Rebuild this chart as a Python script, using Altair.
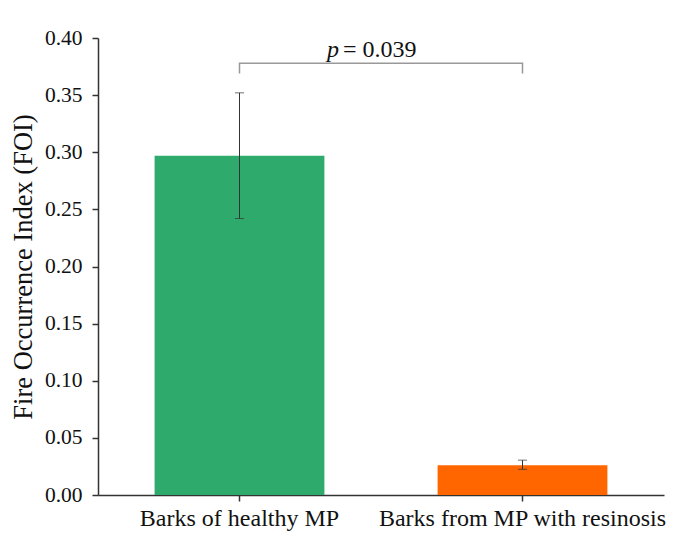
import altair as alt
import pandas as pd

categories = ["Barks of healthy MP", "Barks from MP with resinosis"]
foi = [0.297, 0.026]
err_low = [0.242, 0.0225]
err_high = [0.352, 0.0305]
bar_colors = ["#2eab6c", "#ff6600"]

bracket_top = 0.378
bracket_drop = 0.369
p_label = "p"
p_text = "= 0.039"

y_ticks = [round(i * 0.025, 3) for i in range(17)]

W, H = 566, 457
FONT = "Liberation Serif"

df = pd.DataFrame({"cat": categories, "foi": foi, "lo": err_low, "hi": err_high, "color": bar_colors})
bracket = pd.DataFrame({
    "cat": [categories[0], categories[0], categories[1], categories[1]],
    "y": [bracket_drop, bracket_top, bracket_top, bracket_drop],
    "o": [0, 1, 2, 3],
})

xenc = alt.X("cat:N", sort=categories,
             scale=alt.Scale(paddingInner=0.4, paddingOuter=0.2),
             axis=alt.Axis(title=None, labelAngle=0, labelFont=FONT, labelFontSize=24,
                           labelColor="#111", domainColor="#333", domainWidth=1.5, labelLimit=0,
                           tickColor="#333", tickWidth=1.5, tickSize=6, labelPadding=5))
yscale = alt.Scale(domain=[0, 0.4], nice=False, zero=True)

bars = alt.Chart(df).mark_bar().encode(
    x=xenc,
    y=alt.Y("foi:Q", scale=yscale,
            axis=alt.Axis(title="Fire Occurrence Index (FOI)", values=y_ticks,
                          labelExpr="round(datum.value*40)%2==0 ? format(datum.value,'.2f') : ''",
                          tickSize={"condition": {"test": "round(datum.value*40)%2==0", "value": 6}, "value": 4},
                          labelFont=FONT, labelFontSize=21.5, labelColor="#111", labelPadding=10,
                          titleFont=FONT, titleFontSize=26.5, titleFontWeight="normal", titleColor="#111",
                          titlePadding=7, domainColor="#333", domainWidth=1.5,
                          tickColor="#333", tickWidth=1.5, grid=False)),
    color=alt.Color("color:N", scale=None),
)

err = alt.Chart(df).mark_rule(color="#333", strokeWidth=1).encode(
    x=alt.X("cat:N", sort=categories), y="lo:Q", y2="hi:Q")
cap_lo = alt.Chart(df).mark_tick(color="#333", size=9, thickness=1, orient="horizontal").encode(
    x=alt.X("cat:N", sort=categories), y="lo:Q")
cap_hi = alt.Chart(df).mark_tick(color="#333", size=9, thickness=1, orient="horizontal").encode(
    x=alt.X("cat:N", sort=categories), y="hi:Q")

br = alt.Chart(bracket).mark_line(color="#999", strokeWidth=1.5).encode(
    x=alt.X("cat:N", sort=categories), y="y:Q", order="o:Q")

t1 = alt.Chart(pd.DataFrame({"t": [p_label]})).mark_text(
    font=FONT, fontSize=24, fontStyle="italic", align="right", baseline="alphabetic", color="#111"
).encode(text="t:N", x=alt.value(W / 2 - 42), y=alt.value(19))
t2 = alt.Chart(pd.DataFrame({"t": [p_text]})).mark_text(
    font=FONT, fontSize=24, align="left", baseline="alphabetic", color="#111"
).encode(text="t:N", x=alt.value(W / 2 - 38), y=alt.value(19))

chart = alt.layer(bars, err, cap_lo, cap_hi, br, t1, t2).properties(
    width=W, height=H,
    background="white",
    autosize=alt.AutoSizeParams(type="none"),
    padding={"left": 90, "top": 30, "right": 4, "bottom": 40},
).configure_view(stroke=None, strokeWidth=0)

chart.save("out.html", embed_options={"renderer": "svg", "actions": False})
